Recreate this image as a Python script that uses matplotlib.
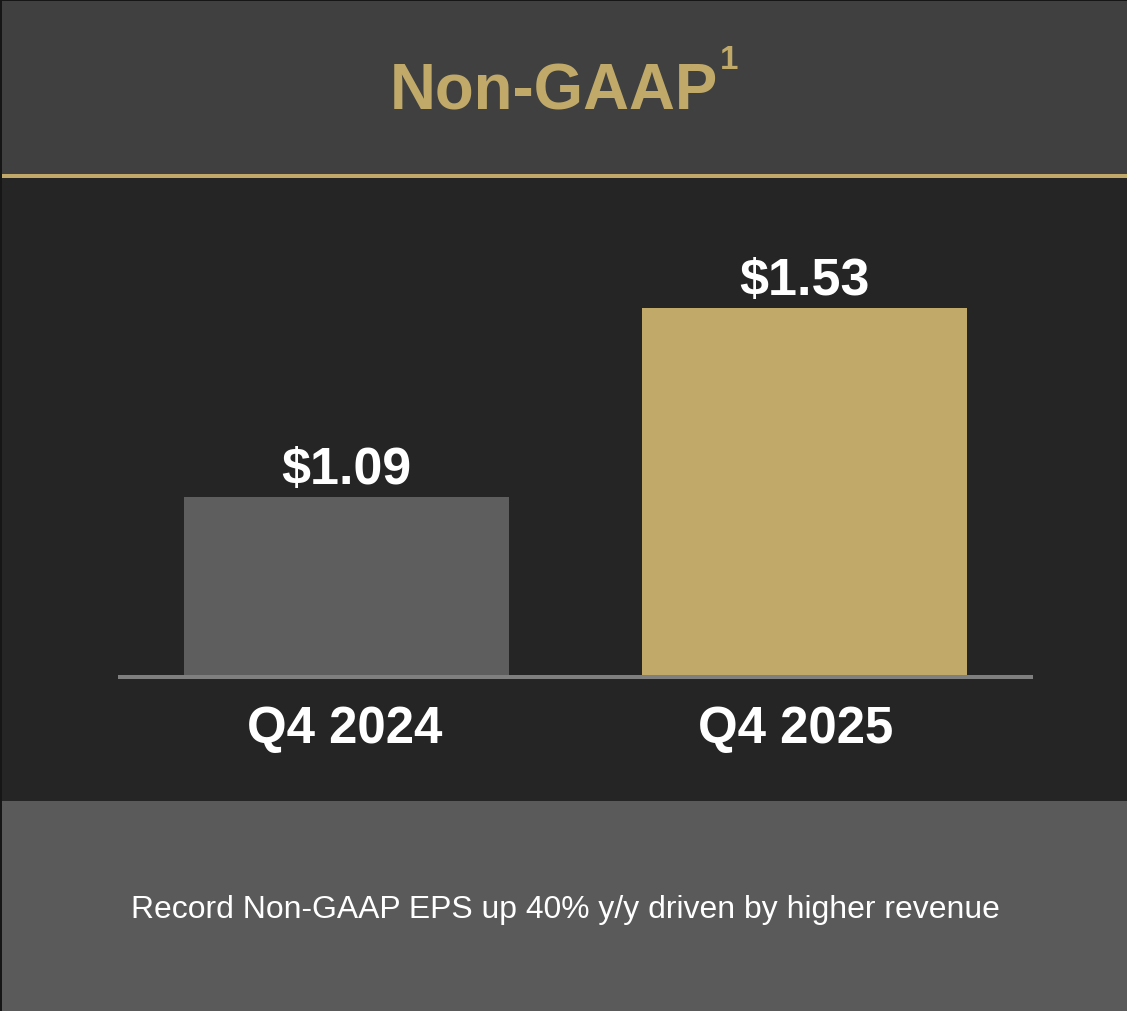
import matplotlib
matplotlib.use("Agg")
import matplotlib.pyplot as plt
from matplotlib.patches import Rectangle

categories = ["Q4 2024", "Q4 2025"]
values = [1.09, 1.53]
value_labels = ["$1.09", "$1.53"]
title = "Non-GAAP"
title_sup = "1"
footnote = "Record Non-GAAP EPS up 40% y/y driven by higher revenue"

W, H = 1127, 1011
DPI = 100
plt.rcParams['font.family'] = ['Liberation Sans', 'DejaVu Sans']

fig = plt.figure(figsize=(W / DPI, H / DPI), dpi=DPI)
fig.patch.set_facecolor("#252525")

def fy(py):
    return 1 - py / H

def fx(px):
    return px / W

def band(y0, y1, color, x0=0, x1=W):
    fig.add_artist(Rectangle((fx(x0), fy(y1)), fx(x1) - fx(x0), fy(y0) - fy(y1),
                             transform=fig.transFigure, facecolor=color,
                             edgecolor="none", zorder=0))

band(0, 174, "#404040")
band(174, 178, "#c1aa69")
band(178, 801, "#252525")
band(801, H, "#5a5a5a")
# thin outer border left/top
band(0, H, "#161616", 0, 2)
band(0, 1, "#161616")

# axes for bars
ax_left, ax_right = 118, 1033
ax_top, ax_bottom = 178, 677
ax = fig.add_axes([fx(ax_left), fy(ax_bottom), fx(ax_right) - fx(ax_left), fy(ax_top) - fy(ax_bottom)])
ax.set_facecolor("none")
ymin = 0.671
px_per_unit = 429.5
ymax = ymin + (ax_bottom - ax_top) / px_per_unit
ax.set_xlim(-0.5, 1.5)
ax.set_ylim(ymin, ymax)
for s in ax.spines.values():
    s.set_visible(False)
ax.set_xticks([])
ax.set_yticks([])

colors = ["#5e5e5e", "#c1aa69"]
xs = list(range(len(categories)))
ax.bar(xs, values, width=0.711, color=colors, zorder=2)
ax.axhline(ymin, color="#7f7f7f", lw=4 * 72 / DPI, zorder=3, clip_on=False,
           solid_capstyle="butt")

pt = 72 / DPI
for x, v, lab in zip(xs, values, value_labels):
    ax.annotate(lab, xy=(x, v), xytext=(0, 13 * pt), textcoords="offset points",
                ha="center", va="baseline", color="white", fontsize=52 * pt,
                fontweight="bold")
label_dx = [-2, -9]
for x, c, dx in zip(xs, categories, label_dx):
    ax.annotate(c, xy=(x, 0), xycoords=("data", "axes fraction"), xytext=(dx * pt, -66 * pt),
                textcoords="offset points", ha="center", va="baseline", color="white",
                fontsize=51 * pt, fontweight="bold")

# title
fig.text(fx(390), fy(109), title, ha="left", va="baseline", color="#c1aa69",
         fontsize=63.5 * pt, fontweight="bold")
fig.text(fx(720), fy(69), title_sup, ha="left", va="baseline", color="#c1aa69",
         fontsize=33 * pt, fontweight="bold")

fig.text(fx(565), fy(918), footnote, ha="center", va="baseline", color="white",
         fontsize=31.9 * pt)

fig.savefig("out.png", dpi=DPI, facecolor=fig.get_facecolor())
